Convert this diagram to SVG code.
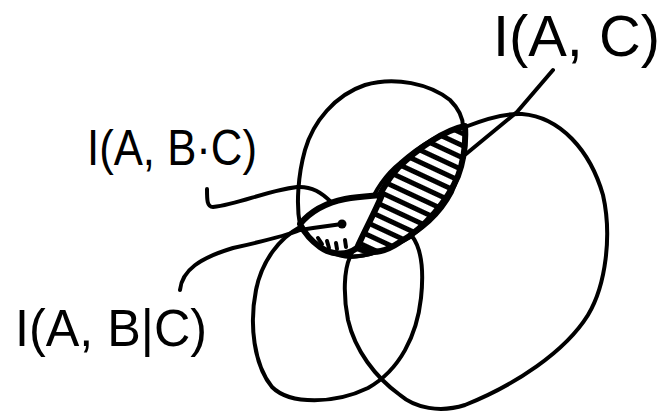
<svg xmlns="http://www.w3.org/2000/svg" width="669" height="412" viewBox="0 0 669 412">
<style>
.set{fill:none;stroke:#000;stroke-width:4;stroke-linecap:round;stroke-linejoin:round}
.region{stroke:#000;stroke-width:6;stroke-linejoin:round}
.ptr{fill:none;stroke:#000;stroke-width:4;stroke-linecap:round;stroke-linejoin:round}
.lbl{font-family:"Liberation Sans","DejaVu Sans",sans-serif;fill:#000}
</style>
<defs>
<pattern id="hatch" patternUnits="userSpaceOnUse" width="11" height="11" patternTransform="rotate(25)">
<rect width="11" height="11" fill="#fff"/>
<rect width="11" height="5" fill="#000"/>
</pattern>
</defs>
<rect width="669" height="412" fill="#fff"/>
<g id="set-A">
<path class="set" d="M300,225 C296,205 298,175 305,150 C313,122 335,95 365,85 C395,76 430,84 450,100 C460,110 463,118 463,127 C465,150 462,170 452,192 C440,215 420,232 397,243 C380,252 362,258 347,256 C330,254 312,242 300,225 Z"/>
</g>
<g id="set-B">
<path class="set" d="M300,227 C280,238 262,260 256,290 C249,325 254,365 272,387 C290,405 335,404 368,388 C400,370 417,335 421,298 C424,270 421,248 412,236 C395,246 372,256 350,257 C330,256 312,242 300,227 Z"/>
</g>
<g id="set-C">
<path class="set" d="M465,127 C485,119 505,113 522,114 C560,117 590,150 603,195 C612,235 606,285 588,315 C565,352 515,385 465,405 C440,413 415,408 400,395 C375,377 355,350 348,320 C343,295 344,270 350,257 C355,245 360,230 367,210 C375,190 385,175 400,163 C420,145 445,130 465,127 Z"/>
</g>
<g id="region-AC">
<path class="region" fill="url(#hatch)" stroke-width="7" d="M465,126 C445,130 418,148 398,168 C382,185 372,210 357,248 C375,256 388,250 400,242 C425,228 448,200 458,176 C464,160 466,142 465,126 Z"/>
</g>
<g id="region-AB">
<path class="region" fill="#fff" stroke-width="7" d="M300,224 C310,212 325,203 345,199 C360,196 372,196 382,195 C375,212 365,230 357,248 C345,257 330,254 320,247 C310,240 304,232 300,224 Z"/>
<g class="ptr" stroke-width="3">
<line x1="318" y1="238" x2="322" y2="244"/>
<line x1="327" y1="241" x2="329" y2="248"/>
<line x1="336" y1="243" x2="337" y2="249"/>
<line x1="345" y1="240" x2="346" y2="247"/>
</g>
</g>
<g id="connectors">
<path class="ptr" d="M553,70 L517,112 L466,154"/>
<path class="ptr" d="M207,189 C207,200 207,207 213,207 C240,204 265,191 297,187 C312,186 322,193 331,202"/>
<path class="ptr" d="M180,290 C182,270 200,258 233,248 C260,242 285,236 300,230 L313,228 L342,224"/>
<circle cx="342" cy="224" r="4.5" fill="#000"/>
</g>
<g id="label-IAC">
<text class="lbl" x="493" y="56" font-size="58" textLength="167" lengthAdjust="spacingAndGlyphs">I(A, C)</text>
</g>
<g id="label-IABdotC">
<text class="lbl" x="87" y="165" font-size="50" textLength="170" lengthAdjust="spacingAndGlyphs">I(A, B·C)</text>
</g>
<g id="label-IABgivenC">
<text class="lbl" x="15" y="346" font-size="52" textLength="192" lengthAdjust="spacingAndGlyphs">I(A, B|C)</text>
</g>
</svg>
